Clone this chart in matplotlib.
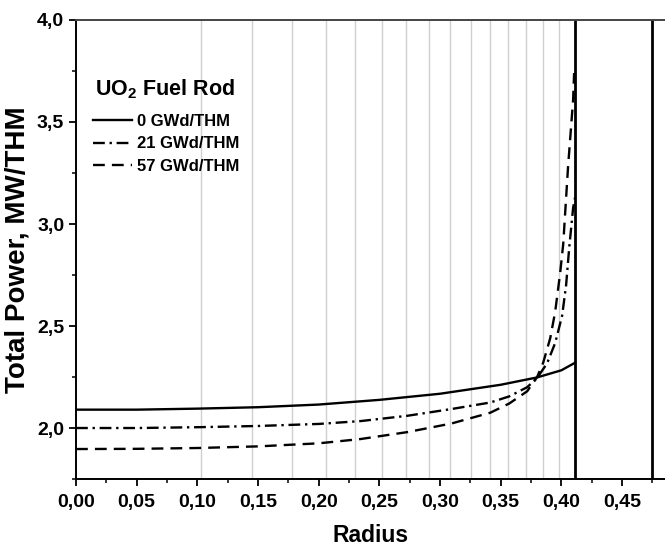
import matplotlib
matplotlib.use("Agg")
import matplotlib.pyplot as plt
from matplotlib.ticker import MultipleLocator, FuncFormatter

plt.rcParams["font.family"] = ["Liberation Sans Narrow", "Liberation Sans", "DejaVu Sans"]
plt.rcParams["font.weight"] = "bold"
plt.rcParams["mathtext.fontset"] = "custom"
plt.rcParams["mathtext.rm"] = "Liberation Sans:bold"
plt.rcParams["mathtext.bf"] = "Liberation Sans:bold"

# power profile across the pellet radius
r_0 = [0.0, 0.05, 0.10, 0.15, 0.20, 0.25, 0.30, 0.35, 0.38, 0.40, 0.4113]
p_0 = [2.09, 2.09, 2.095, 2.102, 2.115, 2.138, 2.168, 2.212, 2.248, 2.283, 2.32]

r_21 = [0.0, 0.05, 0.10, 0.15, 0.20, 0.2345, 0.2731, 0.3093, 0.3414, 0.357,
        0.3718, 0.380, 0.3883, 0.3949, 0.4006, 0.4039, 0.4064, 0.4097, 0.4113]
p_21 = [2.0, 2.0, 2.004, 2.01, 2.02, 2.034, 2.06, 2.093, 2.125, 2.155,
        2.20, 2.245, 2.318, 2.417, 2.55, 2.70, 2.88, 3.08, 3.13]

r_57 = [0.0, 0.05, 0.10, 0.15, 0.20, 0.2345, 0.2731, 0.3093, 0.3414, 0.357,
        0.3718, 0.380, 0.385, 0.3908, 0.3949, 0.3990, 0.4015, 0.4055, 0.4097, 0.4105]
p_57 = [1.897, 1.898, 1.902, 1.91, 1.925, 1.946, 1.98, 2.022, 2.075, 2.12,
        2.18, 2.25, 2.32, 2.44, 2.57, 2.76, 2.90, 3.28, 3.61, 3.74]

labels = ["0 GWd/THM", "21 GWd/THM", "57 GWd/THM"]

# mesh ring boundaries (light grey) and pellet / clad boundaries (black)
rings = [0.1028, 0.1454, 0.1781, 0.2057, 0.2299, 0.2519, 0.2721, 0.2908,
         0.3085, 0.3252, 0.3410, 0.3562, 0.3707, 0.3847, 0.3982]
boundaries = [0.4113, 0.4747]

fig = plt.figure(figsize=(6.65, 5.52), dpi=100)
ax = fig.add_axes([0.1143, 0.1322, 0.8857, 0.8316])

for x in rings:
    ax.axvline(x, color="#cfcfcf", linewidth=1.0, zorder=1)
for x in boundaries:
    ax.axvline(x, color="black", linewidth=2.0, zorder=2)

ax.plot(r_0, p_0, color="black", linewidth=1.7, label=labels[0], zorder=3)
ax.plot(r_21, p_21, color="black", linewidth=1.7, dashes=(5, 2, 1, 2),
        label=labels[1], zorder=3)
ax.plot(r_57, p_57, color="black", linewidth=1.7, dashes=(5, 3),
        label=labels[2], zorder=3)

ax.set_xlim(0, 0.4854)
ax.set_ylim(1.75, 4.0)
ax.xaxis.set_major_locator(MultipleLocator(0.05))
ax.xaxis.set_minor_locator(MultipleLocator(0.025))
ax.yaxis.set_major_locator(MultipleLocator(0.5))
ax.yaxis.set_minor_locator(MultipleLocator(0.25))
ax.xaxis.set_major_formatter(FuncFormatter(lambda v, p: f"{v:.2f}".replace(".", ",")))
ax.yaxis.set_major_formatter(FuncFormatter(lambda v, p: f"{v:.1f}".replace(".", ",")))
ax.tick_params(which="major", direction="out", length=5, width=1.3, labelsize=14)
ax.tick_params(which="minor", direction="out", length=3, width=1.1)
ax.tick_params(axis="x", which="major", pad=6)

for s in ["left", "bottom", "top"]:
    ax.spines[s].set_linewidth(1.4)
ax.spines["top"].set_color("#444444")
ax.spines["right"].set_visible(False)

ax.set_xlabel("Radius", fontsize=16.5, fontweight="bold", va="center")
ax.xaxis.set_label_coords(0.5, -0.122)
ax.set_ylabel("Total Power, MW/THM", fontsize=20, fontweight="bold", va="center",
              family=["Liberation Sans", "DejaVu Sans"])
ax.yaxis.set_label_coords(-0.1, 0.5)

ax.text(0.032, 0.835, r"UO$_\mathbf{2}$ Fuel Rod", transform=ax.transAxes,
        fontsize=15.5, va="baseline", ha="left")
ax.legend(loc="upper left", bbox_to_anchor=(0.018, 0.81), frameon=False,
          fontsize=12, handlelength=2.3, handletextpad=0.3, labelspacing=0.45,
          borderaxespad=0)

fig.savefig("out.png", dpi=100)
